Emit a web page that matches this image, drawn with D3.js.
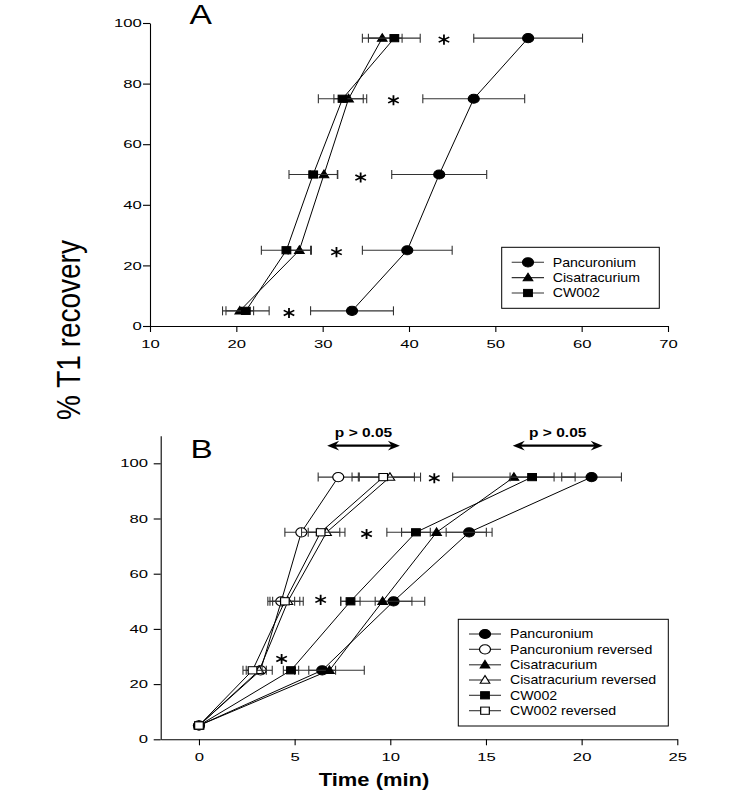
<!DOCTYPE html>
<html><head><meta charset="utf-8">
<script src="https://cdn.jsdelivr.net/npm/d3@7"></script>
<style>body{margin:0;background:#fff} svg{display:block} text{font-family:"Liberation Sans",Arial,Helvetica,sans-serif}</style>
</head><body><svg id="c" width="745" height="802"></svg>
<script>
// ---------- data ----------
const levels = [5, 25, 50, 75, 95];
// Panel A: time (min) to reach each % T1 recovery
const aPancuronium = [33.4, 39.8, 43.5, 47.5, 53.8];
const aPancuroniumErr = [4.8, 5.2, 5.5, 5.9, 6.3];
const aCisatracurium = [20.4, 27.3, 30.15, 33.0, 36.9];
const aCisatracuriumErr = [1.6, 1.3, 1.6, 1.7, 2.3];
const aCW002 = [21.1, 25.8, 28.9, 32.3, 38.3];
const aCW002Err = [2.7, 2.9, 2.8, 2.8, 3.0];
const aStarX = [26.1, 31.6, 34.4, 38.2, 44.05];
const aStarY = [4.3, 24.4, 49, 74.5, 94.5];
// Panel B
const bPancuronium = [0, 6.44, 10.17, 14.12, 20.52];
const bPancuroniumErr = [0, 0.7, 0.96, 1.2, 1.56];
const bPancuroniumRev = [0, 3.22, 4.3, 5.35, 7.28];
const bPancuroniumRevErr = [0, 0.3, 0.7, 0.86, 1.05];
const bCisatracurium = [0, 6.82, 9.6, 12.42, 16.46];
const bCisatracuriumErr = [0, 1.82, 2.2, 2.6, 3.2];
const bCisatracuriumRev = [0, 3.15, 4.65, 6.67, 9.98];
const bCisatracuriumRevErr = [0, 0.68, 0.8, 0.96, 1.6];
const bCW002 = [0, 4.81, 7.92, 11.34, 17.41];
const bCW002Err = [0, 0.4, 0.5, 0.75, 1.15];
const bCW002Rev = [0, 2.8, 4.49, 6.36, 9.63];
const bCW002RevErr = [0, 0.5, 0.78, 1.0, 1.63];
const bStarX = [4.32, 6.36, 8.76, 12.3];
const bStarY = [29.1, 50.5, 74.4, 94.6];
const bArrowFrom = [6.7, 16.4];
const bArrowTo = [10.5, 21.1];
const bArrowY = 106.4;
const bArrowLabel = ["p > 0.05", "p > 0.05"];
const yTicks = [0, 20, 40, 60, 80, 100];
const aXTicks = [10, 20, 30, 40, 50, 60, 70];
const bXTicks = [0, 5, 10, 15, 20, 25];
const legendA = ["Pancuronium", "Cisatracurium", "CW002"];
const legendB = ["Pancuronium", "Pancuronium reversed", "Cisatracurium", "Cisatracurium reversed", "CW002", "CW002 reversed"];

// ---------- drawing ----------
const SX = 1.2; // horizontal stretch of the original picture
const svg = d3.select("#c");

const xA = d3.scaleLinear().domain([10, 70]).range([150, 668]);
const yA = d3.scaleLinear().domain([0, 100]).range([326, 23]);
const xB = d3.scaleLinear().domain([-2, 25]).range([160.7, 677.3]);
const yB = d3.scaleLinear().domain([0, 110]).range([739.3, 435.7]);

function marker(g, shape, filled, x, y) {
  const t = `translate(${x},${y}) scale(${SX},1)`;
  const fill = filled ? "#000" : "#fff";
  let m;
  if (shape === "circle") m = g.append("circle").attr("r", 4.6);
  else if (shape === "square") m = g.append("rect").attr("x", -3.6).attr("y", -3.6).attr("width", 7.2).attr("height", 7.2);
  else m = g.append("path").attr("d", "M0,-4.4L4,3.2L-4,3.2Z");
  m.attr("transform", t).attr("fill", fill).attr("stroke", "#000").attr("stroke-width", 1);
}

function htext(g, str, x, y, size, sx, anchor, weight) {
  return g.append("text").attr("transform", `translate(${x},${y}) scale(${sx},1)`)
    .attr("font-size", size).attr("text-anchor", anchor || "start")
    .attr("font-weight", weight || "normal").attr("fill", "#000").text(str);
}

function axes(x, y, xt, yOff) {
  const gx = svg.append("g").attr("transform", `translate(0,${y.range()[0]})`)
    .call(d3.axisBottom(x).tickValues(xt).tickSize(6).tickPadding(8).tickSizeOuter(0));
  gx.selectAll("text").attr("transform", "scale(1.45,1)");
  const gy = svg.append("g").attr("transform", `translate(${x.range()[0]},0)`)
    .call(d3.axisLeft(y).tickValues(yTicks).tickSize(7).tickSizeOuter(0));
  gy.selectAll("text").attr("x", 0).attr("transform", `translate(${yOff},0) scale(1.45,1)`);
  [gx, gy].forEach(g => {
    g.attr("font-size", 11.5).attr("font-family", '"Liberation Sans",Arial,sans-serif');
    g.selectAll("path,line").attr("stroke", "#000").attr("stroke-width", 1.1);
  });
}

function series(x, y, xs, es, ys, shape, filled) {
  const g = svg.append("g");
  const pts = xs.map((v, i) => ({ x: v, y: ys[i], e: es[i] }));
  g.append("path").datum(pts)
    .attr("d", d3.line().x(d => x(d.x)).y(d => y(d.y)))
    .attr("fill", "none").attr("stroke", "#000").attr("stroke-width", 1);
  return { g, pts, x, y, shape, filled };
}
function errorBars(s) {
  s.pts.filter(d => d.e > 0).forEach(d => {
    const cy = s.y(d.y), x1 = s.x(d.x - d.e), x2 = s.x(d.x + d.e);
    s.g.append("line").attr("x1", x1).attr("x2", x2).attr("y1", cy).attr("y2", cy)
      .attr("stroke", "#333").attr("stroke-width", 1.1);
    [x1, x2].forEach(xx => s.g.append("line").attr("x1", xx).attr("x2", xx)
      .attr("y1", cy - 4.5).attr("y2", cy + 4.5).attr("stroke", "#333").attr("stroke-width", 1.1));
  });
}
function markers(s) {
  s.pts.forEach(d => marker(s.g, s.shape, s.filled, s.x(d.x), s.y(d.y)));
}

function stars(x, y, xs, ys) {
  const sym = d3.symbol(d3.symbolAsterisk, 72);
  xs.forEach((v, i) => svg.append("path").attr("d", sym())
    .attr("transform", `translate(${x(v)},${y(ys[i])}) scale(${SX},1)`)
    .attr("fill", "none").attr("stroke", "#000").attr("stroke-width", 1.5));
}

function legend(x0, y0, w, h, names, shapes, fills, lineX1, lineX2, mX, tX, rowY) {
  const g = svg.append("g");
  g.append("rect").attr("x", x0).attr("y", y0).attr("width", w).attr("height", h)
    .attr("fill", "#fff").attr("stroke", "#000").attr("stroke-width", 1);
  names.forEach((n, i) => {
    const yy = rowY[i];
    g.append("line").attr("x1", lineX1).attr("x2", lineX2).attr("y1", yy).attr("y2", yy)
      .attr("stroke", "#333").attr("stroke-width", 1.1);
    marker(g, shapes[i], fills[i], mX, yy);
    htext(g, n, tX, yy + 4.3, 12, 1.18, "start");
  });
}

// ----- Panel A -----
axes(xA, yA, aXTicks, -8.3);
const sA = [
  series(xA, yA, aPancuronium, aPancuroniumErr, levels, "circle", true),
  series(xA, yA, aCisatracurium, aCisatracuriumErr, levels, "triangle", true),
  series(xA, yA, aCW002, aCW002Err, levels, "square", true)
];
sA.forEach(errorBars);
sA.forEach(markers);
stars(xA, yA, aStarX, aStarY);
htext(svg, "A", 189.5, 24, 28, 1.2, "start");
legend(501.7, 247.3, 157.6, 61, legendA, ["circle", "triangle", "square"], [true, true, true],
  511.7, 544, 528, 552.7, [262.3, 277.6, 293]);

// ----- Panel B -----
axes(xB, yB, bXTicks, -12.7);
const sB = [
  series(xB, yB, bPancuronium, bPancuroniumErr, levels, "circle", true),
  series(xB, yB, bPancuroniumRev, bPancuroniumRevErr, levels, "circle", false),
  series(xB, yB, bCisatracurium, bCisatracuriumErr, levels, "triangle", true),
  series(xB, yB, bCisatracuriumRev, bCisatracuriumRevErr, levels, "triangle", false),
  series(xB, yB, bCW002, bCW002Err, levels, "square", true),
  series(xB, yB, bCW002Rev, bCW002RevErr, levels, "square", false)
];
sB.forEach(errorBars);
sB.forEach(markers);
stars(xB, yB, bStarX, bStarY);
htext(svg, "B", 190.5, 457.7, 26, 1.28, "start");
legend(458.3, 619.3, 210, 106.7, legendB,
  ["circle", "circle", "triangle", "triangle", "square", "square"],
  [true, false, true, false, true, false],
  469, 501, 485, 510, [634, 649.3, 664.8, 680, 695.3, 710.7]);

// arrows
bArrowFrom.forEach((a, i) => {
  const x1 = xB(a), x2 = xB(bArrowTo[i]), yy = yB(bArrowY);
  svg.append("line").attr("x1", x1 + 4).attr("x2", x2 - 4).attr("y1", yy).attr("y2", yy)
    .attr("stroke", "#000").attr("stroke-width", 2.2);
  svg.append("path").attr("d", `M${x1},${yy}L${x1 + 12},${yy - 4.8}L${x1 + 8},${yy}L${x1 + 12},${yy + 4.8}Z`).attr("fill", "#000");
  svg.append("path").attr("d", `M${x2},${yy}L${x2 - 12},${yy - 4.8}L${x2 - 8},${yy}L${x2 - 12},${yy + 4.8}Z`).attr("fill", "#000");
  htext(svg, bArrowLabel[i], (x1 + x2) / 2, 436.7, 13.5, 1.15, "middle", "bold");
});

// axis titles
svg.append("text").attr("transform", `translate(80,330) scale(${SX},1) rotate(-90)`)
  .attr("font-size", 28).attr("text-anchor", "middle").attr("fill", "#000").text("% T1 recovery");
htext(svg, "Time (min)", 374, 786, 18, 1.22, "middle", "bold");
</script></body></html>
